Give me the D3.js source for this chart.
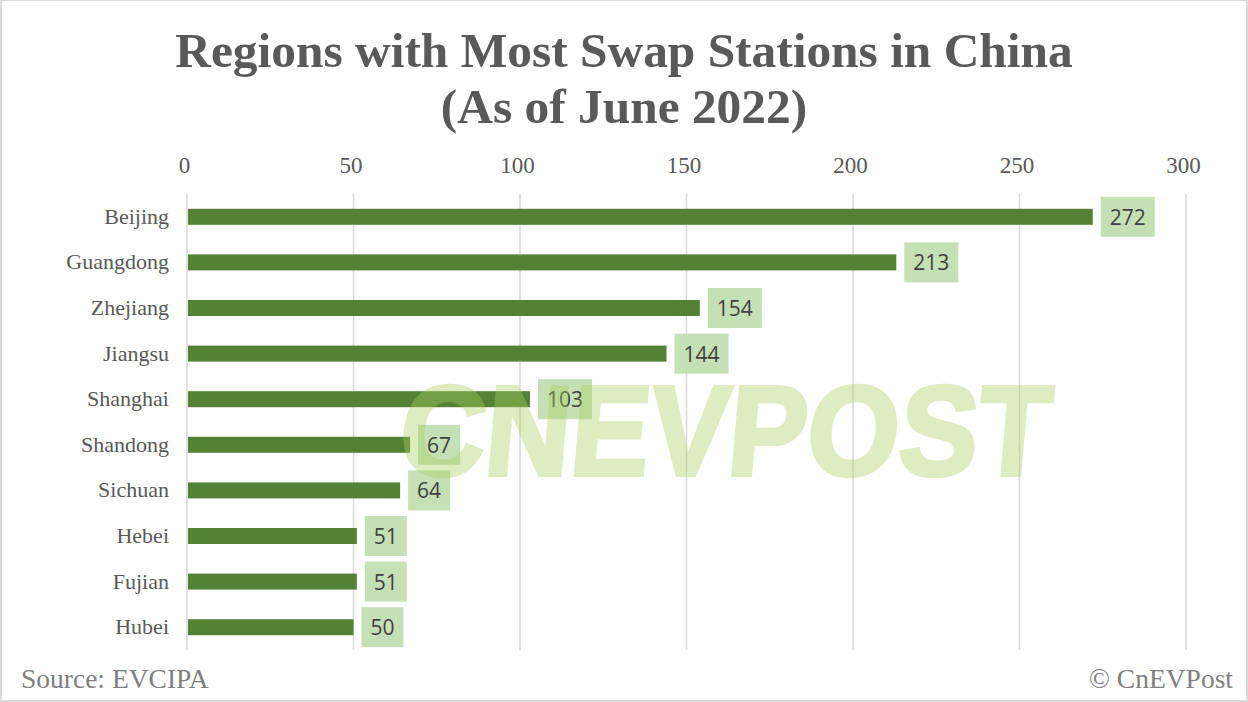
<!DOCTYPE html>
<html>
<head>
<meta charset="utf-8">
<script src="https://cdn.jsdelivr.net/npm/d3@7"></script>
<style>
  html, body { margin: 0; padding: 0; background: #fff; overflow: hidden; }
  svg { display: block; }
</style>
</head>
<body>
<script>
// Chart data
var regions = ["Beijing", "Guangdong", "Zhejiang", "Jiangsu", "Shanghai", "Shandong", "Sichuan", "Hebei", "Fujian", "Hubei"];
var stations = [272, 213, 154, 144, 103, 67, 64, 51, 51, 50];
var xTicks = [0, 50, 100, 150, 200, 250, 300];
var titleLines = ["Regions with Most Swap Stations in China", "(As of June 2022)"];

var width = 1248;
var height = 702;
var serif = "'Liberation Serif', serif";

var svg = d3.select("body")
    .append("svg")
    .attr("width", width)
    .attr("height", height);

// Light frame around the slide
svg.append("rect")
    .attr("x", 1).attr("y", 0)
    .attr("width", width - 2).attr("height", height - 1)
    .attr("fill", "#fff")
    .attr("stroke", "#d9d9d9")
    .attr("stroke-width", 2);

var x = d3.scaleLinear().domain([0, 300]).range([187, 1186]);
var y = d3.scaleBand().domain(regions).range([194, 650]);

// Title
svg.selectAll(".title")
    .data(titleLines)
    .enter().append("text")
    .attr("class", "title")
    .attr("x", 624)
    .attr("y", (d, i) => 67 + i * 56)
    .attr("text-anchor", "middle")
    .attr("font-family", serif)
    .attr("font-weight", "bold")
    .attr("font-size", 49.4)
    .attr("fill", "#595959")
    .text(d => d);

// Top axis, gridlines drawn separately below it
var xAxis = d3.axisTop(x)
    .tickValues(xTicks)
    .tickSize(0)
    .tickPadding(0);

var axisG = svg.append("g")
    .attr("transform", "translate(0,173)")
    .call(xAxis);
axisG.select(".domain").remove();
axisG.selectAll("text")
    .attr("dy", 0)
    .attr("x", -3)
    .attr("font-family", serif)
    .attr("font-size", 23)
    .attr("fill", "#595959");

svg.selectAll(".grid")
    .data(xTicks)
    .enter().append("line")
    .attr("class", "grid")
    .attr("x1", d => x(d)).attr("x2", d => x(d))
    .attr("y1", 194).attr("y2", 650)
    .attr("stroke", "#d9d9d9")
    .attr("stroke-width", 1.5);

// Region labels
var yAxis = d3.axisLeft(y).tickSize(0).tickPadding(18);
var yG = svg.append("g")
    .attr("transform", "translate(187,0)")
    .call(yAxis);
yG.select(".domain").remove();
yG.selectAll("text")
    .attr("font-family", serif)
    .attr("font-size", 22)
    .attr("fill", "#595959");

// Bars
var barH = 16;
svg.selectAll(".bar")
    .data(stations)
    .enter().append("rect")
    .attr("class", "bar")
    .attr("x", x(0) + 1)
    .attr("y", (d, i) => y(regions[i]) + y.bandwidth() / 2 - barH / 2)
    .attr("width", d => x(d) - x(0) - 1)
    .attr("height", barH)
    .attr("fill", "#548235");

// Value labels on pale green boxes
var boxW = d => (d >= 100 ? 54 : 42);
svg.selectAll(".valueBox")
    .data(stations)
    .enter().append("rect")
    .attr("class", "valueBox")
    .attr("x", d => x(d) + 8)
    .attr("y", (d, i) => y(regions[i]) + y.bandwidth() / 2 - 20)
    .attr("width", boxW)
    .attr("height", 40)
    .attr("fill", "#c5e0b4");

svg.selectAll(".value")
    .data(stations)
    .enter().append("text")
    .attr("class", "value")
    .attr("x", d => x(d) + 8 + boxW(d) / 2)
    .attr("y", (d, i) => y(regions[i]) + y.bandwidth() / 2 + 8)
    .attr("text-anchor", "middle")
    .attr("font-family", "'Open Sans', sans-serif")
    .attr("font-size", 21)
    .attr("fill", "#404040")
    .text(d => d);

// Watermark sits over the chart, stroked to get the blocky weight
svg.append("g")
    .attr("opacity", 0.38)
    .append("text")
    .attr("transform", "translate(397,475) skewX(-5)")
    .attr("textLength", 650)
    .attr("lengthAdjust", "spacingAndGlyphs")
    .attr("font-family", "'Liberation Sans', sans-serif")
    .attr("font-weight", "bold")
    .attr("font-size", 128)
    .attr("fill", "#a9d05f")
    .attr("stroke", "#a9d05f")
    .attr("stroke-width", 4)
    .attr("stroke-linejoin", "miter")
    .text("CNEVPOST");

// Footer
svg.append("text")
    .attr("x", 21).attr("y", 688)
    .attr("font-family", serif)
    .attr("font-size", 27.5)
    .attr("fill", "#7f7f7f")
    .text("Source: EVCIPA");

svg.append("text")
    .attr("x", 1233).attr("y", 688)
    .attr("text-anchor", "end")
    .attr("font-family", serif)
    .attr("font-size", 27.5)
    .attr("fill", "#7f7f7f")
    .text("© CnEVPost");
</script>
</body>
</html>
